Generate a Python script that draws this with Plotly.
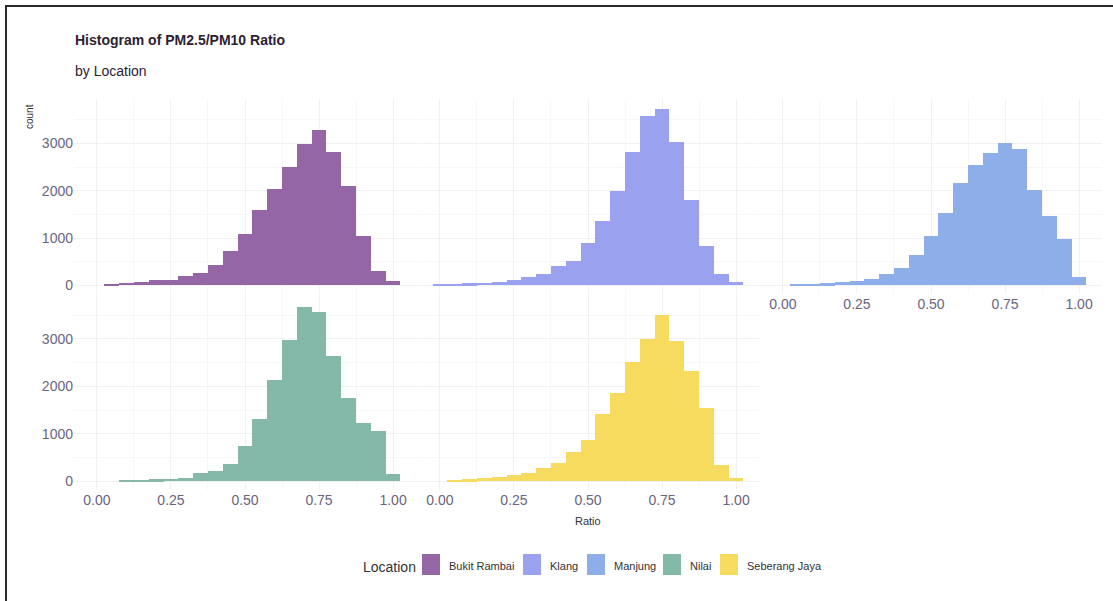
import plotly.graph_objects as go

# ---------------- data ----------------
locations = ["Bukit Rambai", "Klang", "Manjung", "Nilai", "Seberang Jaya"]
bar_colors = ["#9466a6", "#9aa1ee", "#8eaeea", "#84b8a8", "#f6db5e"]
bin_centers = [0.00, 0.05, 0.10, 0.15, 0.20, 0.25, 0.30, 0.35, 0.40, 0.45, 0.50,
               0.55, 0.60, 0.65, 0.70, 0.75, 0.80, 0.85, 0.90, 0.95, 1.00]
bukit_rambai = [0, 28, 49, 56, 99, 99, 183, 254, 430, 711, 1077, 1585, 2028, 2500,
                2979, 3282, 2803, 2099, 1042, 289, 92]
klang = [15, 28, 35, 50, 56, 106, 162, 246, 408, 500, 880, 1359, 1993, 2803, 3577,
         3718, 3014, 1796, 831, 246, 56]
manjung = [0, 21, 14, 35, 63, 85, 120, 225, 352, 634, 1035, 1528, 2148, 2535, 2782,
           3007, 2866, 2007, 1458, 965, 176]
nilai = [0, 0, 21, 21, 42, 49, 70, 162, 218, 359, 746, 1303, 2134, 2979, 3669, 3563,
         2641, 1746, 1232, 1056, 148]
seberang_jaya = [0, 14, 42, 56, 92, 127, 176, 268, 373, 620, 866, 1415, 1852, 2521,
                 2993, 3507, 2965, 2331, 1535, 338, 56]
series = [bukit_rambai, klang, manjung, nilai, seberang_jaya]
x_ticks = [0.0, 0.25, 0.5, 0.75, 1.0]
y_ticks = [0, 1000, 2000, 3000]

W, H = 1113, 601
BIN_W = 0.05
X_RANGE = [-0.0775, 1.0775]
Y_RANGE = [-187, 3931]

def px_x(p):
    return p / W

def px_y(p):
    return 1 - p / H

# panel positions in pixels (left, right), (top, bottom)
cols = [(74, 416), (417, 759), (760, 1102)]
rows = [(99.4, 294.4), (294.9, 489.9)]
panel_pos = [(0, 0), (0, 1), (0, 2), (1, 0), (1, 1)]
show_x = [False, False, True, True, True]
show_y = [True, False, False, True, False]

TICK_COLOR = "#6a6480"
FONT = "Liberation Sans, Arial, sans-serif"

fig = go.Figure()
layout_axes = {}
for i, (loc, col, vals) in enumerate(zip(locations, bar_colors, series)):
    r, c = panel_pos[i]
    n = i + 1
    xa = "x" if n == 1 else f"x{n}"
    ya = "y" if n == 1 else f"y{n}"
    fig.add_trace(go.Bar(
        x=bin_centers, y=vals, width=BIN_W, name=loc,
        marker=dict(color=col, line=dict(width=0)),
        xaxis=xa, yaxis=ya, showlegend=False,
    ))
    l, rr = cols[c]
    t, b = rows[r]
    layout_axes[f"xaxis{'' if n == 1 else n}"] = dict(
        domain=[px_x(l), px_x(rr)], anchor=ya, range=X_RANGE,
        tickvals=x_ticks, tickformat=".2f", showticklabels=show_x[i],
        showgrid=True, gridcolor="#f1f1f1", gridwidth=1, zeroline=False,
        showline=False, ticks="", tickfont=dict(family=FONT, size=14, color=TICK_COLOR),
        minor=dict(showgrid=True, gridcolor="#f7f7f7", tickvals=[0.125, 0.375, 0.625, 0.875]),
    )
    layout_axes[f"yaxis{'' if n == 1 else n}"] = dict(
        domain=[px_y(b), px_y(t)], anchor=xa, range=Y_RANGE,
        tickvals=y_ticks, showticklabels=show_y[i],
        showgrid=True, gridcolor="#f1f1f1", gridwidth=1, zeroline=False,
        showline=False, ticks="", tickfont=dict(family=FONT, size=14, color=TICK_COLOR),
        minor=dict(showgrid=True, gridcolor="#f7f7f7", tickvals=[500, 1500, 2500, 3500]),
    )

def note(text, x, y, size, color="#333333", anchor="left", angle=0):
    return dict(text=text, x=px_x(x), y=px_y(y), xref="paper", yref="paper",
                xanchor=anchor, yanchor="middle", showarrow=False, textangle=angle,
                font=dict(family=FONT, size=size, color=color))

annotations = [
    note("<b>Histogram of PM2.5/PM10 Ratio</b>", 73, 40, 14, "#2e2232"),
    note("by Location", 73, 71, 14, "#2e2232"),
    note("count", 29, 117, 10, "#333333", "center", -90),
    note("Ratio", 588, 521, 11, "#333333", "center"),
    note("Location", 361, 567, 14, "#333333"),
]

shapes = []
# legend keys
legend_box_x = [422, 523, 587, 663, 720]
for loc, col, bx in zip(locations, bar_colors, legend_box_x):
    shapes.append(dict(type="rect", xref="paper", yref="paper",
                       x0=px_x(bx), x1=px_x(bx + 18), y0=px_y(575), y1=px_y(554),
                       fillcolor=col, line=dict(width=0)))
    annotations.append(note(loc, bx + 25, 566, 11, "#333333"))

# frame lines of the image
shapes.append(dict(type="line", xref="paper", yref="paper",
                   x0=px_x(6), x1=px_x(6), y0=0, y1=px_y(5),
                   line=dict(color="#2a2a2a", width=2)))
shapes.append(dict(type="line", xref="paper", yref="paper",
                   x0=px_x(5), x1=1, y0=px_y(6), y1=px_y(6),
                   line=dict(color="#2a2a2a", width=2)))

fig.update_layout(
    width=W, height=H, margin=dict(l=0, r=0, t=0, b=0),
    paper_bgcolor="white", plot_bgcolor="white",
    bargap=0, showlegend=False,
    annotations=annotations, shapes=shapes,
    font=dict(family=FONT),
    **layout_axes,
)

fig.write_html("out.html")
